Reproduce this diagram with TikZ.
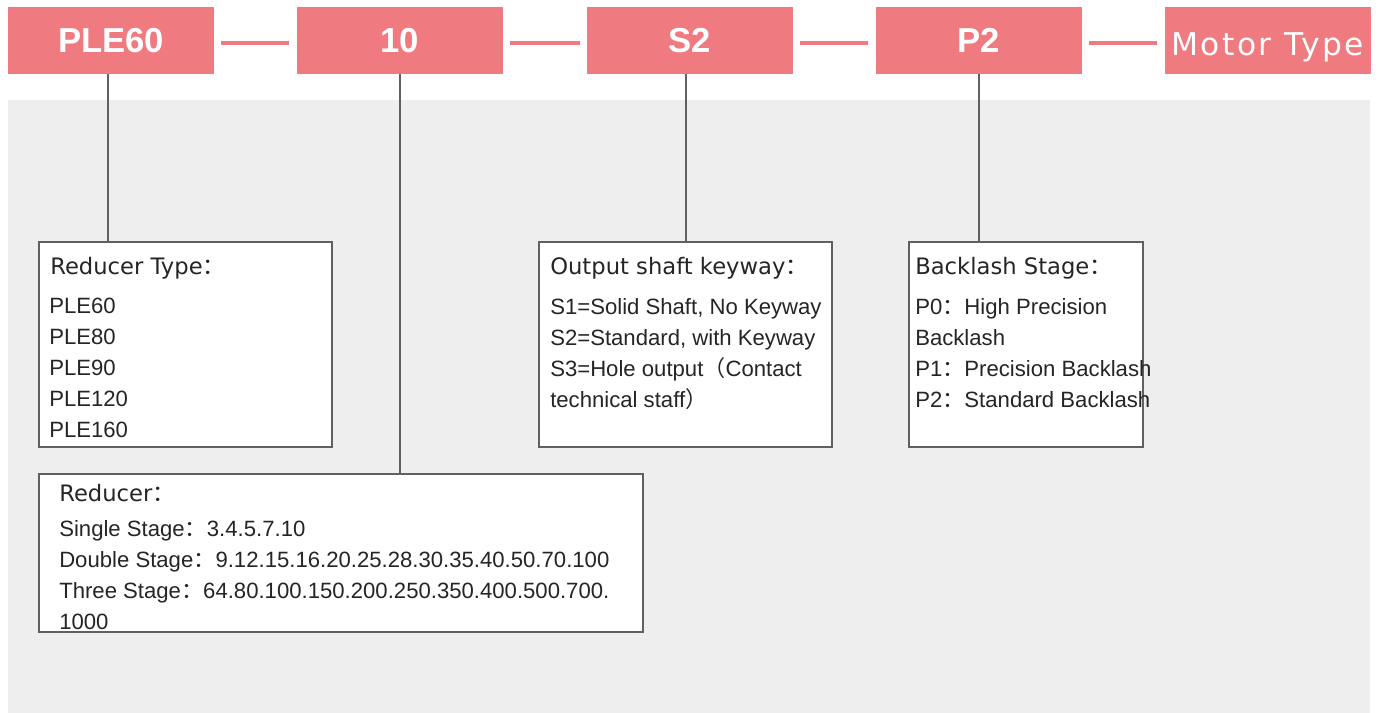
\documentclass[tikz,border=0pt]{standalone}
\usepackage{fontspec}
\setmainfont{Liberation Sans}
\newfontfamily\headfont{DejaVu Sans}
\newfontfamily\motorfont[LetterSpace=8]{DejaVu Sans}
\newfontfamily\cjk{Noto Sans CJK SC}
\usepackage{tikz}

\definecolor{codepink}{RGB}{239,122,128}
\definecolor{panelgray}{RGB}{238,238,238}
\definecolor{framegray}{RGB}{96,96,96}
\definecolor{inkgray}{RGB}{40,36,36}

\newcommand{\fwc}{{\cjk ：}}

\begin{document}
\begin{tikzpicture}[x=0.75pt,y=0.75pt,yscale=-1,xscale=1,
  codebox/.style={fill=codepink, minimum width=154.5pt, minimum height=50.25pt, inner sep=0pt, text=white, font=\bfseries\fontsize{26}{30}\selectfont},
  codelink/.style={draw=codepink, line width=2.6pt, shorten >=5.25pt, shorten <=5.25pt},
  stem/.style={draw=framegray, line width=1.5pt},
  infobox/.style={draw=framegray, fill=white, line width=1.4pt, inner sep=0pt},
  headtext/.style={anchor=base west, inner sep=0pt, text=inkgray, font=\headfont\fontsize{17}{20}\selectfont},
  bodytext/.style={anchor=base west, inner sep=0pt, text=inkgray, font=\fontsize{16.6}{20}\selectfont}]
\useasboundingbox (0,0) rectangle (1381,713);

%panel
\fill[panelgray] (8,100) rectangle (1370,713);

%code boxes
\node[codebox] (ple) at (111,40.5) {PLE60};
\node[codebox] (ratio) at (399.5,40.5) {10};
\node[codebox] (shaft) at (690,40.5) {S2};
\node[codebox] (lash) at (978.5,40.5) {P2};
\node[codebox, font=\motorfont\fontsize{23.5}{26}\selectfont, text height=21.8pt, text depth=0pt] (motor) at (1267.5,40.5) {Motor Type};

%links
\draw[codelink] ([yshift=2pt]ple.east) -- ([yshift=2pt]ratio.west);
\draw[codelink] ([yshift=2pt]ratio.east) -- ([yshift=2pt]shaft.west);
\draw[codelink] ([yshift=2pt]shaft.east) -- ([yshift=2pt]lash.west);
\draw[codelink] ([yshift=2pt]lash.east) -- ([yshift=2pt]motor.west);

%info boxes
\node[infobox, minimum width=219.75pt, minimum height=153.75pt] (typeBox) at (185.5,344.5) {};
\node[infobox, minimum width=219.75pt, minimum height=153.75pt] (keyBox) at (685.5,344.5) {};
\node[infobox, minimum width=175.5pt, minimum height=153.75pt] (lashBox) at (1026,344.5) {};
\node[infobox, minimum width=453pt, minimum height=118.5pt] (ratioBox) at (341,553) {};

%stems
\draw[stem] ([xshift=-2.25pt]ple.south) -- ([xshift=-2.25pt]ple.south |- typeBox.north);
\draw[stem] (ratio.south) -- (ratio.south |- ratioBox.north);
\draw[stem] ([xshift=-3pt]shaft.south) -- ([xshift=-3pt]shaft.south |- keyBox.north);
\draw[stem] (lash.south) -- (lash.south |- lashBox.north);

%Reducer type
\node[headtext] (typeHead) at (50,274) {Reducer Type\fwc};
\foreach \txt [count=\i] in {PLE60,PLE80,PLE90,PLE120,PLE160}
  \node[bodytext] (type\i) at (49,{313+31*(\i-1)}) {\txt};

%Output shaft
\node[headtext] (keyHead) at (550,274) {Output shaft keyway\fwc};
\foreach \txt [count=\i] in {{S1=Solid Shaft, No Keyway},{S2=Standard, with Keyway},{S3=Hole output{\cjk （}Contact},{technical staff{\cjk ）}}}
  \node[bodytext] (key\i) at (550,{314+31*(\i-1)}) {\txt};

%Backlash
\node[headtext] (lashHead) at (915,274) {Backlash Stage\fwc};
\foreach \txt [count=\i] in {P0\fwc High Precision,Backlash,P1\fwc Precision Backlash,P2\fwc Standard Backlash}
  \node[bodytext] (lash\i) at (915,{314+31*(\i-1)}) {\txt};

%Reducer ratio
\node[headtext] (ratioHead) at (59,501) {Reducer\fwc};
\foreach \txt [count=\i] in {Single Stage\fwc 3.4.5.7.10,Double Stage\fwc 9.12.15.16.20.25.28.30.35.40.50.70.100,Three Stage\fwc 64.80.100.150.200.250.350.400.500.700.,1000}
  \node[bodytext] (ratio\i) at (59,{536+31*(\i-1)}) {\txt};

\end{tikzpicture}
\end{document}
